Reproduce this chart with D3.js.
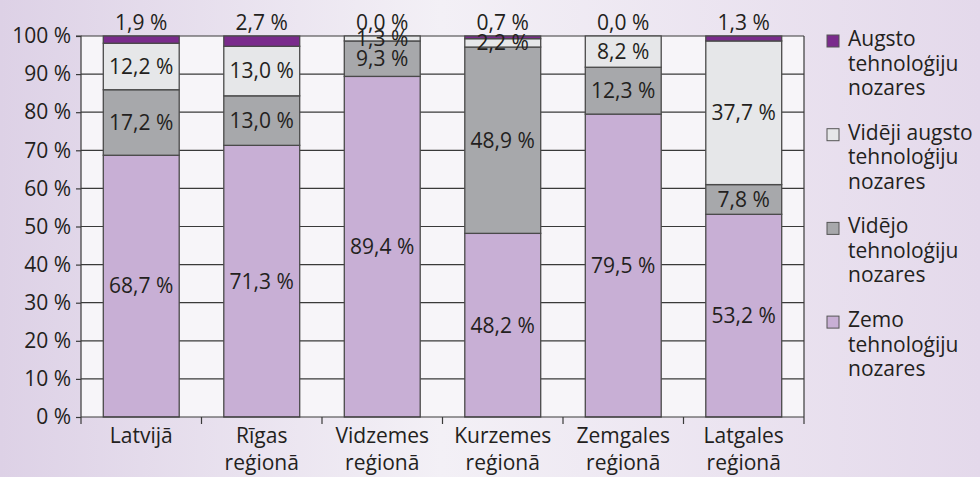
<!DOCTYPE html>
<html><head><meta charset="utf-8">
<script src="https://cdn.jsdelivr.net/npm/d3@7"></script>
<style>html,body{margin:0;padding:0;}svg{display:block;}</style>
</head><body>
<svg id="chart" width="980" height="477"></svg>
<script>
const categories = [["Latvijā"], ["Rīgas", "reģionā"], ["Vidzemes", "reģionā"], ["Kurzemes", "reģionā"], ["Zemgales", "reģionā"], ["Latgales", "reģionā"]];
const zemo = [68.7, 71.3, 89.4, 48.2, 79.5, 53.2];
const videjo = [17.2, 13.0, 9.3, 48.9, 12.3, 7.8];
const videjiAugsto = [12.2, 13.0, 1.3, 2.2, 8.2, 37.7];
const augsto = [1.9, 2.7, 0.0, 0.7, 0.0, 1.3];
const seriesNames = [["Augsto", "tehnoloģiju", "nozares"], ["Vidēji augsto", "tehnoloģiju", "nozares"], ["Vidējo", "tehnoloģiju", "nozares"], ["Zemo", "tehnoloģiju", "nozares"]];
const yTicks = [0, 10, 20, 30, 40, 50, 60, 70, 80, 90, 100];

const colors = {zemo: "#c8afd5", videjo: "#a7a8ab", videjiAugsto: "#e6e7e9", augsto: "#7a2b8c"};
const font = "'Open Sans', 'Noto Sans', sans-serif";
const textColor = "#231f20";
const fs = 21;

const svg = d3.select("#chart");
const W = 980, H = 477;
const defs = svg.append("defs");
const bg = defs.append("linearGradient").attr("id", "bg").attr("x1", 0).attr("x2", 1).attr("y1", 0).attr("y2", 0);
bg.append("stop").attr("offset", "0").attr("stop-color", "#ddd1e6");
bg.append("stop").attr("offset", "0.45").attr("stop-color", "#f3f0f6");
bg.append("stop").attr("offset", "1").attr("stop-color", "#e4d9eb");
svg.append("rect").attr("width", W).attr("height", H).attr("fill", "url(#bg)");

const margin = {left: 81, right: 176, top: 36, bottom: 60};
const x = d3.scaleBand().domain(d3.range(categories.length)).range([margin.left, W - margin.right]).paddingInner(0.37).paddingOuter(0.185);
const y = d3.scaleLinear().domain([0, 100]).range([H - margin.bottom, margin.top]);

// plot area
svg.append("rect").attr("x", margin.left).attr("y", y(100)).attr("width", W - margin.right - margin.left).attr("height", y(0) - y(100)).attr("fill", "#f7f5f9");

// gridlines
svg.append("g").selectAll("line").data(yTicks.filter(d => d > 0)).join("line")
  .attr("x1", margin.left).attr("x2", W - margin.right)
  .attr("y1", d => y(d)).attr("y2", d => y(d))
  .attr("stroke", "#3a3a3a").attr("stroke-width", 1.2);

// stacked bars
const keys = ["zemo", "videjo", "videjiAugsto", "augsto"];
const table = categories.map((c, i) => ({i, zemo: zemo[i], videjo: videjo[i], videjiAugsto: videjiAugsto[i], augsto: augsto[i]}));
const stack = d3.stack().keys(keys)(table);
const gBars = svg.append("g");
stack.forEach(layer => {
  gBars.append("g").selectAll("rect").data(layer).join("rect")
    .attr("x", d => x(d.data.i)).attr("width", x.bandwidth())
    .attr("y", d => y(d[1])).attr("height", d => y(d[0]) - y(d[1]))
    .attr("fill", colors[layer.key]).attr("stroke", "#4a4a4a").attr("stroke-width", 1.3);
});

// right border
svg.append("line").attr("x1", W - margin.right).attr("x2", W - margin.right).attr("y1", y(100)).attr("y2", y(0) + 7).attr("stroke", "#3a3a3a").attr("stroke-width", 1.2);

// y axis
const yAxis = svg.append("g").attr("transform", `translate(${margin.left},0)`)
  .call(d3.axisLeft(y).tickValues(yTicks).tickFormat(d => d + " %").tickSize(5).tickPadding(5));
yAxis.select(".domain").attr("stroke", "#3a3a3a").attr("stroke-width", 1.2).attr("d", `M-5,${y(100)}H0V${y(0) + 7}`);
yAxis.selectAll(".tick line").attr("stroke", "#3a3a3a").attr("stroke-width", 1.2);
yAxis.selectAll("text").attr("font-family", font).attr("font-size", fs).attr("fill", textColor);

// x axis
const step = x.step();
const boundaries = d3.range(categories.length + 1).map(i => x(0) - x.paddingOuter() * step + i * step);
svg.append("line").attr("x1", margin.left).attr("x2", W - margin.right).attr("y1", y(0)).attr("y2", y(0)).attr("stroke", "#3a3a3a").attr("stroke-width", 1.2);
svg.append("g").selectAll("line").data(boundaries.slice(1, -1)).join("line")
  .attr("x1", d => d).attr("x2", d => d).attr("y1", y(0)).attr("y2", y(0) + 7)
  .attr("stroke", "#3a3a3a").attr("stroke-width", 1.2);
const xl = svg.append("g").selectAll("text").data(categories).join("text")
  .attr("x", (d, i) => x(i) + x.bandwidth() / 2).attr("y", 443)
  .attr("text-anchor", "middle").attr("font-family", font).attr("font-size", fs).attr("fill", textColor);
xl.each(function(d) {
  d.forEach((t, k) => d3.select(this).append("tspan").attr("x", d3.select(this).attr("x")).attr("dy", k ? 27 : 0).text(t));
});

// value labels
const fmt = v => v.toFixed(1).replace(".", ",") + " %";
stack.forEach(layer => {
  svg.append("g").selectAll("text").data(layer).join("text")
    .attr("x", d => x(d.data.i) + x.bandwidth() / 2)
    .attr("y", d => layer.key === "augsto" ? y(100) - 13 : y((d[0] + d[1]) / 2))
    .attr("dy", "0.35em")
    .attr("text-anchor", "middle").attr("font-family", font).attr("font-size", fs).attr("fill", textColor)
    .text(d => fmt(d[1] - d[0]));
});

// legend
const legendKeys = ["augsto", "videjiAugsto", "videjo", "zemo"];
const lg = svg.append("g").selectAll("g").data(legendKeys).join("g")
  .attr("transform", (d, i) => `translate(827, ${46 + i * 93.7})`);
lg.append("rect").attr("x", 0).attr("y", -11).attr("width", 12).attr("height", 12)
  .attr("fill", d => colors[d]).attr("stroke", "#555").attr("stroke-width", 1);
lg.append("text").attr("font-family", font).attr("font-size", fs).attr("fill", textColor)
  .each(function(d, i) {
    seriesNames[i].forEach((t, k) => d3.select(this).append("tspan").attr("x", 21).attr("y", k * 24.5).text(t));
  });
</script>
</body></html>
